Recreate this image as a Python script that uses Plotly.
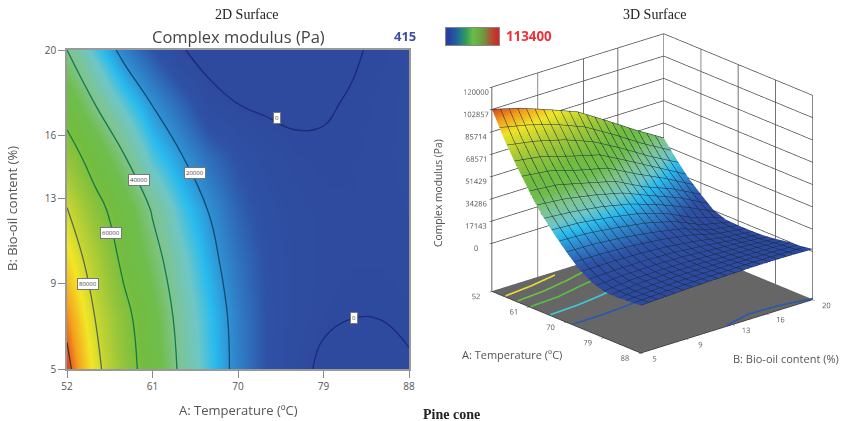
import plotly.graph_objects as go

W, H = 841, 421

temperature = [52, 55, 58, 61, 64, 67, 70, 73, 76, 79, 82, 85, 88]
bio_oil = [5, 7.5, 10, 12.5, 15, 17.5, 20]
modulus_b5 = [103000, 83500, 67000, 52000, 38000, 27000, 17000, 8000, 2000, -1200, -1800, -1200, -400]
modulus_b75 = [97000, 79500, 64000, 50000, 36000, 26000, 16500, 8000, 3000, 900, 100, 100, 600]
modulus_b10 = [89000, 74000, 57000, 44500, 33000, 23000, 14500, 7500, 3300, 1500, 1000, 1000, 1500]
modulus_b125 = [80500, 65000, 52000, 39000, 28000, 19500, 11500, 6000, 2800, 1300, 1000, 1200, 2000]
modulus_b15 = [67000, 53000, 40500, 28000, 20500, 13000, 7500, 3200, 1000, 400, 700, 1500, 2500]
modulus_b175 = [53000, 39500, 29000, 19500, 12000, 2500, -100, -1100, -1000, -300, 230, 1200, 2500]
modulus_b20 = [40000, 28000, 17000, 8500, 600, -3000, -3500, -3500, -3200, -2000, -340, 510, 2000]
modulus = [modulus_b5, modulus_b75, modulus_b10, modulus_b125, modulus_b15, modulus_b175, modulus_b20]

levels = [0, 20000, 40000, 60000, 80000, 100000]
level_colors = ["#1b2a78", "#124a70", "#0f7a55", "#0f7d45", "#5a6a50", "#50301c"]
label_a = [74.1, 82.2, 65.5, 59.6, 56.6, 54.2]
label_b = [16.8, 7.4, 14.2, 13.9, 11.4, 9.0]
label_text = ["0", "0", "20000", "40000", "60000", "80000"]

floor_levels = [82000, 66000, 50000, 30000, 12000]
floor_colors = ["#e8dc30", "#6cc040", "#58c040", "#40c8d8", "#2a58b0"]
floor_far_level = 2000
floor_far_from = 12.5
floor_far_color = "#2a58b0"
floor_z = -37000

x_ticks = [52, 61, 70, 79, 88]
y_ticks = [5, 9, 13, 16, 20]
z_ticks = [0, 17143, 34286, 51429, 68571, 85714, 102857, 120000]
z_labels = ["0", "17143", "34286", "51429", "68571", "85714", "102857", "120000"]
z_min, z_max = 415, 113400

scale = [[0, "#2e4a9e"], [.07, "#2e52a6"], [.17, "#2f8fd2"], [.22, "#29bbee"], [.27, "#6ec6c6"], [.35, "#80c48a"],
         [.42, "#6fbd4c"], [.5, "#72bc40"], [.6, "#95c53a"], [.68, "#bdd233"], [.76, "#f2e627"],
         [.84, "#f4a01e"], [.9, "#e04a1c"], [1, "#b02818"]]
bar_values = [0, .1, .2, .3, .4, .5, .6, .7, .8, .9, 1]
bar_scale = [[0, "#2a3f9e"], [.2, "#1f6f9a"], [.35, "#2f9a5a"], [.5, "#6cbd48"], [.7, "#6f9a40"], [.85, "#a0603a"], [1, "#d02a28"]]

def px(x): return x / W
def py(y): return 1 - y / H

def crossing(row, level, from_right=False):
    idx = range(len(row) - 1)
    for i in (reversed(idx) if from_right else idx):
        a, b = row[i], row[i + 1]
        if (a - level) * (b - level) <= 0 and a != b:
            return temperature[i] + (level - a) / (b - a) * (temperature[i + 1] - temperature[i])
    return None

fig = go.Figure()
fig.add_trace(go.Heatmap(x=temperature, y=bio_oil, z=modulus, zsmooth="best", zmin=z_min, zmax=z_max,
                         colorscale=scale, showscale=False, xaxis="x", yaxis="y"))
for lv, col in zip(levels, level_colors):
    fig.add_trace(go.Contour(x=temperature, y=bio_oil, z=modulus, showscale=False, xaxis="x", yaxis="y",
                             autocontour=False, contours=dict(start=lv, end=lv, size=1, coloring="none"),
                             line=dict(color=col, width=1.3, smoothing=1.2)))

fig.add_trace(go.Heatmap(z=[bar_values], colorscale=bar_scale, showscale=False, xaxis="x2", yaxis="y2", zsmooth="best"))

# plain floor, hides the grid on the floor plane
fig.add_trace(go.Surface(x=[temperature[0], temperature[-1]], y=[bio_oil[0], bio_oil[-1]],
                         z=[[floor_z + 300] * 2] * 2, surfacecolor=[[0, 0], [0, 0]], cmin=0, cmax=1,
                         colorscale=[[0, "#666666"], [1, "#666666"]], showscale=False, scene="scene",
                         lighting=dict(ambient=1, diffuse=0, specular=0)))

def floor_line(level, color, from_right=False, min_b=5):
    pts = [(crossing(r, level, from_right), b) for r, b in zip(modulus, bio_oil) if b >= min_b]
    pts = [p for p in pts if p[0] is not None]
    fig.add_trace(go.Scatter3d(x=[p[0] for p in pts], y=[p[1] for p in pts], z=[floor_z + 700] * len(pts),
                               mode="lines", line=dict(color=color, width=4), scene="scene"))

for lv, col in zip(floor_levels, floor_colors):
    floor_line(lv, col)
floor_line(floor_far_level, floor_far_color, from_right=True, min_b=floor_far_from)

mesh = dict(show=True, color="#16283c", width=1)
fig.add_trace(go.Surface(x=temperature, y=bio_oil, z=modulus, cmin=z_min, cmax=z_max, colorscale=scale,
                         showscale=False, scene="scene",
                         lighting=dict(ambient=.95, diffuse=.1, specular=0, roughness=1),
                         contours=dict(x=dict(start=52, end=88, size=1.8, **mesh),
                                       y=dict(start=5, end=20, size=.75, **mesh))))

axis_font = dict(family="Open Sans", size=9.5, color="#555")
ax2d = dict(showgrid=False, zeroline=False, showline=True, linecolor="#999", linewidth=1.5, mirror=True,
            ticks="outside", ticklen=7, tickcolor="#888", tickfont=dict(family="Open Sans", size=10, color="#555"))
ax3d = dict(showgrid=True, gridcolor="#444", gridwidth=1.5, showline=True, linecolor="#333", linewidth=1.5,
            showspikes=False, ticks="outside", ticklen=3, tickcolor="#111", tickfont=axis_font, tickangle=0,
            title=dict(text=""), zeroline=False)
bar_ax = dict(showticklabels=False, ticks="", showgrid=False, zeroline=False, showline=True, linecolor="#888",
              linewidth=1, mirror=True)

text = lambda x, y, t, **k: dict(x=px(x), y=py(y), xref="paper", yref="paper", text=t, showarrow=False,
                                 xanchor="center", yanchor="middle", **k)
serif = dict(family="Liberation Serif", size=14, color="#222")
sans = dict(family="Open Sans", size=13, color="#555")
small = dict(family="Open Sans", size=11, color="#555")
ann = [text(246, 14, "2D Surface", font=serif),
       text(654, 14, "3D Surface", font=serif),
       text(451, 414, "<b>Pine cone</b>", font=serif),
       text(238, 37, "Complex modulus (Pa)", font=dict(family="Open Sans", size=16.5, color="#444")),
       text(405, 36, "<b>415</b>", font=dict(family="Open Sans", size=13, color="#3f4fa5")),
       text(529, 36, "<b>113400</b>", font=dict(family="Open Sans", size=13.3, color="#f0303a")),
       text(238, 410, "A: Temperature (ºC)", font=sans),
       text(12, 209, "B: Bio-oil content (%)", font=sans, textangle=-90),
       text(438, 193, "Complex modulus (Pa)", font=dict(family="Open Sans", size=10.3, color="#555"), textangle=-90),
       text(512, 354, "A: Temperature (ºC)", font=small),
       text(786, 358, "B: Bio-oil content (%)", font=small)]
for a, b, t in zip(label_a, label_b, label_text):
    ann.append(dict(x=a, y=b, xref="x", yref="y", text=t, showarrow=False, bgcolor="white",
                    bordercolor="#777", borderwidth=1, borderpad=1, font=dict(family="Open Sans", size=6, color="#444")))

fig.update_layout(
    width=W, height=H, margin=dict(l=0, r=0, t=0, b=0, autoexpand=False), paper_bgcolor="white", plot_bgcolor="white",
    showlegend=False, annotations=ann,
    xaxis=dict(domain=[px(67), px(409)], range=[52, 88], tickvals=x_ticks, anchor="y", **ax2d),
    yaxis=dict(domain=[py(369), py(50)], range=[5, 20], tickvals=y_ticks, anchor="x", **ax2d),
    xaxis2=dict(domain=[px(446), px(499)], anchor="y2", **bar_ax),
    yaxis2=dict(domain=[py(45), py(28)], anchor="x2", **bar_ax),
    scene=dict(
        domain=dict(x=[px(430), px(841)], y=[0, 1]),
        aspectmode="manual", aspectratio=dict(x=1.08, y=1.08, z=1.04),
        camera=dict(eye=dict(x=1.437, y=-1.35, z=.67), center=dict(x=-.058, y=-.055, z=-.09), projection=dict(type="orthographic")),
        xaxis=dict(range=[52, 88], tickvals=x_ticks, showbackground=True, backgroundcolor="white", **ax3d),
        yaxis=dict(range=[5, 20], tickvals=y_ticks, showbackground=True, backgroundcolor="white", **ax3d),
        zaxis=dict(range=[floor_z, 120000], tickvals=z_ticks, ticktext=z_labels, showbackground=True, backgroundcolor="#666666", **ax3d),
    ),
)
fig.write_html("out.html", post_script="document.body.style.margin='0';", config=dict(displayModeBar=False))
